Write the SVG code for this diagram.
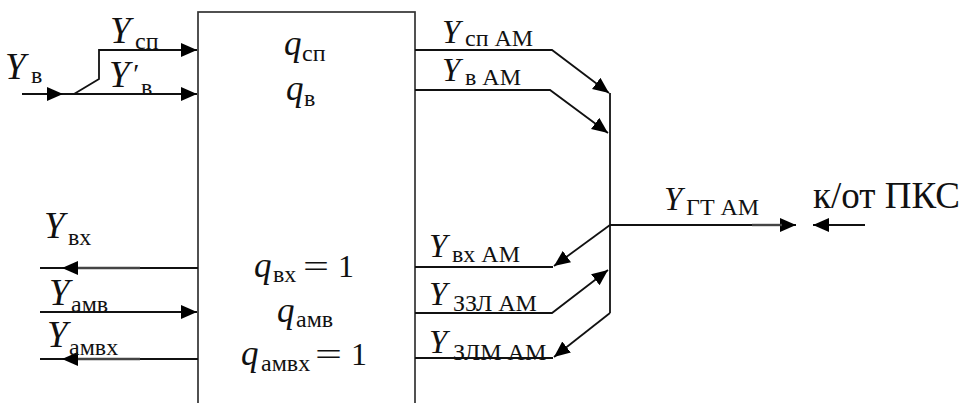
<svg xmlns="http://www.w3.org/2000/svg" width="968" height="403" viewBox="0 0 968 403">
<defs>
<style>
.ln{fill:none;stroke:#111;stroke-width:1.8}
.thk{fill:none;stroke:#444;stroke-width:2.4}
.box{fill:#fff;stroke:#333;stroke-width:1.7}
.ah{fill:#000}
.Y{font-style:italic;font-size:37px}
.Yr{font-style:italic;font-size:33px}
.s{font-size:24px}
.sr{font-size:24px}
.q{font-style:italic;font-size:35px}
.m{font-size:32px}
.big{font-size:37px}
</style>
<marker id="a" markerUnits="userSpaceOnUse" markerWidth="17" markerHeight="15" refX="16" refY="7" orient="auto">
<path d="M0,0 L16,7 L0,14 z" fill="#000"/>
</marker>
</defs>

<g id="block" font-family="Liberation Serif, Times New Roman, serif" fill="#111">
<rect class="box" x="198" y="12" width="217" height="400"/>
<text x="284" y="55" class="q">q</text><text x="302" y="61" class="s">сп</text>
<text x="286" y="100" class="q">q</text><text x="304" y="106" class="s">в</text>
<text x="254" y="277" class="q">q</text><text x="273" y="282" class="s">вх</text><text x="303" y="277" class="m" textLength="26" lengthAdjust="spacingAndGlyphs">=</text><text x="338" y="277" class="m">1</text>
<text x="277" y="322" class="q">q</text><text x="296" y="327" class="s">амв</text>
<text x="241" y="365" class="q">q</text><text x="261" y="371" class="s">амвх</text><text x="315" y="365" class="m" textLength="27" lengthAdjust="spacingAndGlyphs">=</text><text x="351" y="365" class="m">1</text>
</g>

<g id="connectors">
<line class="ln" x1="22" y1="94" x2="197" y2="94" marker-end="url(#a)"/>
<polygon class="ah" points="47,87 63,94 47,101"/>
<polyline class="ln" points="74,94 99,79 99,50 197,50" marker-end="url(#a)"/>
<line class="ln" x1="198" y1="268" x2="40" y2="268"/>
<line class="thk" x1="77" y1="268" x2="140" y2="268"/>
<polygon class="ah" points="78,261 62,268 78,275"/>
<line class="ln" x1="40" y1="312" x2="197" y2="312" marker-end="url(#a)"/>
<line class="ln" x1="198" y1="359" x2="40" y2="359"/>
<line class="thk" x1="77" y1="359" x2="140" y2="359"/>
<polygon class="ah" points="78,352 62,359 78,366"/>

<polyline class="ln" points="415,50 552,50 609,93" marker-end="url(#a)"/>
<polyline class="ln" points="415,90 550,90 608,133" marker-end="url(#a)"/>
<line class="ln" x1="610" y1="93" x2="610" y2="313"/>
<line class="ln" x1="610" y1="225" x2="796" y2="225" marker-end="url(#a)"/>
<line class="thk" x1="752" y1="225" x2="782" y2="225"/>
<line class="ln" x1="865" y1="225" x2="813" y2="225" marker-end="url(#a)"/>
<polyline class="ln" points="415,267 553,267"/>
<line class="ln" x1="610" y1="225" x2="554" y2="266" marker-end="url(#a)"/>
<polyline class="ln" points="415,313 552,313 608,270" marker-end="url(#a)"/>
<polyline class="ln" points="415,358 553,358"/>
<line class="ln" x1="610" y1="313" x2="554" y2="357" marker-end="url(#a)"/>
</g>

<g id="labels" font-family="Liberation Serif, Times New Roman, serif" fill="#111">
<text x="5" y="79" class="Y">Y</text><text x="31" y="83" class="s">в</text>
<text x="110" y="43" class="Y">Y</text><text x="135" y="49" class="s">сп</text>
<text x="109" y="87" class="Y">Y<tspan font-size="28" dx="2" dy="-4">′</tspan></text><text x="141" y="95" class="s">в</text>
<text x="44" y="238" class="Y">Y</text><text x="68" y="245" class="s">вх</text>
<text x="49" y="305" class="Y">Y</text><text x="71" y="312" class="s">амв</text>
<text x="47" y="347" class="Y">Y</text><text x="69" y="355" class="s">амвх</text>

<text x="442" y="43" class="Yr">Y</text><text x="465" y="46" class="sr">сп АМ</text>
<text x="442" y="81" class="Yr">Y</text><text x="465" y="85" class="sr">в АМ</text>
<text x="429" y="257" class="Yr">Y</text><text x="452" y="262" class="sr">вх АМ</text>
<text x="429" y="305" class="Yr">Y</text><text x="453" y="311" class="sr">ЗЗЛ АМ</text>
<text x="429" y="353" class="Yr">Y</text><text x="453" y="360" class="sr">ЗЛМ АМ</text>
<text x="664" y="210" class="Yr">Y</text><text x="686" y="215" class="sr">ГТ АМ</text>
<text x="813" y="208" class="big">к/от ПКС</text>
</g>
</svg>
